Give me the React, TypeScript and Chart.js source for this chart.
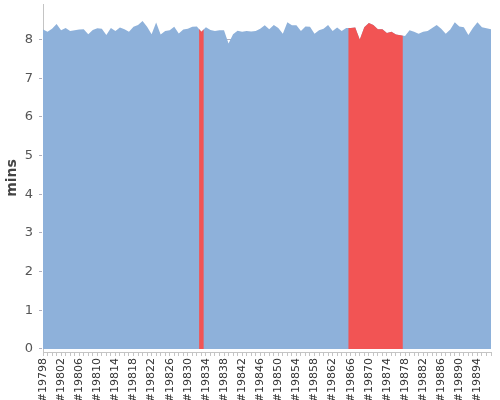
import React, { useEffect, useRef } from "react";
import { Chart, registerables } from "chart.js";

// ---- data ----
const FIRST_RUN = 19798;
const minutes: number[] = [
  8.26, 8.2, 8.28, 8.4, 8.24, 8.3, 8.22, 8.24, 8.26, 8.27,
  8.14, 8.25, 8.29, 8.28, 8.12, 8.3, 8.22, 8.31, 8.27, 8.2,
  8.33, 8.38, 8.48, 8.33, 8.14, 8.44, 8.13, 8.22, 8.24, 8.33,
  8.16, 8.26, 8.28, 8.33, 8.34, 8.2, 8.32, 8.25, 8.22, 8.24,
  8.24, 7.9, 8.14, 8.23, 8.2, 8.22, 8.21, 8.22, 8.28, 8.37,
  8.27, 8.38, 8.3, 8.15, 8.45, 8.37, 8.37, 8.22, 8.34, 8.33,
  8.15, 8.24, 8.28, 8.38, 8.22, 8.31, 8.22, 8.3, 8.3, 8.31,
  8.0, 8.32, 8.43, 8.38, 8.27, 8.27, 8.17, 8.2, 8.13, 8.11,
  8.09, 8.24, 8.2, 8.15, 8.2, 8.22, 8.3, 8.38, 8.28, 8.15,
  8.26, 8.45, 8.34, 8.32, 8.12, 8.3, 8.45, 8.32, 8.29, 8.27,
];
const categories: string[] = minutes.map((_, i) => "#" + (FIRST_RUN + i));
const highlighted: number[] = [35, 68, 69, 70, 71, 72, 73, 74, 75, 76, 77, 78, 79];
const yTicks: number[] = [0, 1, 2, 3, 4, 5, 6, 7, 8];

const BLUE = "rgb(142,177,218)";
const RED = "rgb(242,84,84)";

// clip the highlight dataset to one category-wide band around each highlighted point
const highlightClip = {
  id: "highlightClip",
  beforeDatasetDraw(chart: any, args: any) {
    if (chart.data.datasets[args.index]?.label !== "highlight") return;
    const x = chart.scales.x;
    const area = chart.chartArea;
    const half = (x.getPixelForValue(1) - x.getPixelForValue(0)) / 2;
    const ctx = chart.ctx;
    ctx.save();
    ctx.beginPath();
    highlighted.forEach((idx) => {
      const px = x.getPixelForValue(idx);
      ctx.rect(px - half, area.top, half * 2, area.bottom - area.top);
    });
    ctx.clip();
  },
  afterDatasetDraw(chart: any, args: any) {
    if (chart.data.datasets[args.index]?.label !== "highlight") return;
    chart.ctx.restore();
  },
};

Chart.register(highlightClip);
Chart.register(...registerables);

export default function App() {
  const ref = useRef<HTMLCanvasElement | null>(null);
  useEffect(() => {
    if (!ref.current) return;
    const chart = new Chart(ref.current, {
      type: "line",
      data: {
        labels: categories,
        datasets: [
          {
            label: "mins",
            data: minutes,
            backgroundColor: BLUE,
            borderWidth: 0,
            pointRadius: 0,
            fill: "origin",
            order: 1,
          },
          {
            label: "highlight",
            data: minutes,
            backgroundColor: RED,
            borderWidth: 0,
            pointRadius: 0,
            fill: "origin",
            order: 0,
          },
        ],
      },
      options: {
        animation: false,
        responsive: true,
        maintainAspectRatio: false,
        layout: { padding: { top: 4, right: 9, left: 0, bottom: 0 } },
        plugins: {
          legend: { display: false },
          tooltip: { enabled: false },
        },
        scales: {
          x: {
            grid: {
              display: true,
              drawOnChartArea: false,
              drawTicks: true,
              tickLength: 4,
              color: "#c4c4c4",
            },
            border: { display: true, color: "#c4c4c4" },
            ticks: {
              autoSkip: false,
              maxRotation: 90,
              minRotation: 90,
              padding: 2,
              color: "#333",
              font: { family: "DejaVu Sans", size: 11 },
              callback: (_v: any, i: number) => (i % 4 === 0 ? categories[i] : ""),
            },
            afterFit: (s: any) => {
              s.height = 48;
              s.paddingLeft = 0;
              s.paddingRight = 0;
            },
          },
          y: {
            min: -0.08,
            max: 8.92,
            z: 1,
            afterBuildTicks: (s: any) => {
              s.ticks = yTicks.map((v) => ({ value: v }));
            },
            ticks: {
              stepSize: 1,
              includeBounds: false,
              padding: 6,
              color: "#555",
              font: { family: "DejaVu Sans", size: 13 },
            },
            grid: {
              color: "rgba(80,80,110,0.45)",
              borderDash: [3, 3],
              tickBorderDash: [3, 3],
              tickLength: 4,
            } as any,
            border: { display: true, color: "#c4c4c4" },
            title: {
              display: true,
              text: "mins",
              color: "#444",
              font: { family: "DejaVu Sans", size: 14, weight: "bold" },
              padding: { top: 4, bottom: 2 },
            },
            afterFit: (s: any) => {
              s.width = 43;
              s.paddingTop = 0;
              s.paddingBottom = 0;
            },
          },
        },
      },
    });
    return () => chart.destroy();
  }, []);
  return (
    <div style={{ position: "absolute", left: 0, top: 0, width: 500, height: 400 }}>
      <canvas ref={ref} />
    </div>
  );
}
